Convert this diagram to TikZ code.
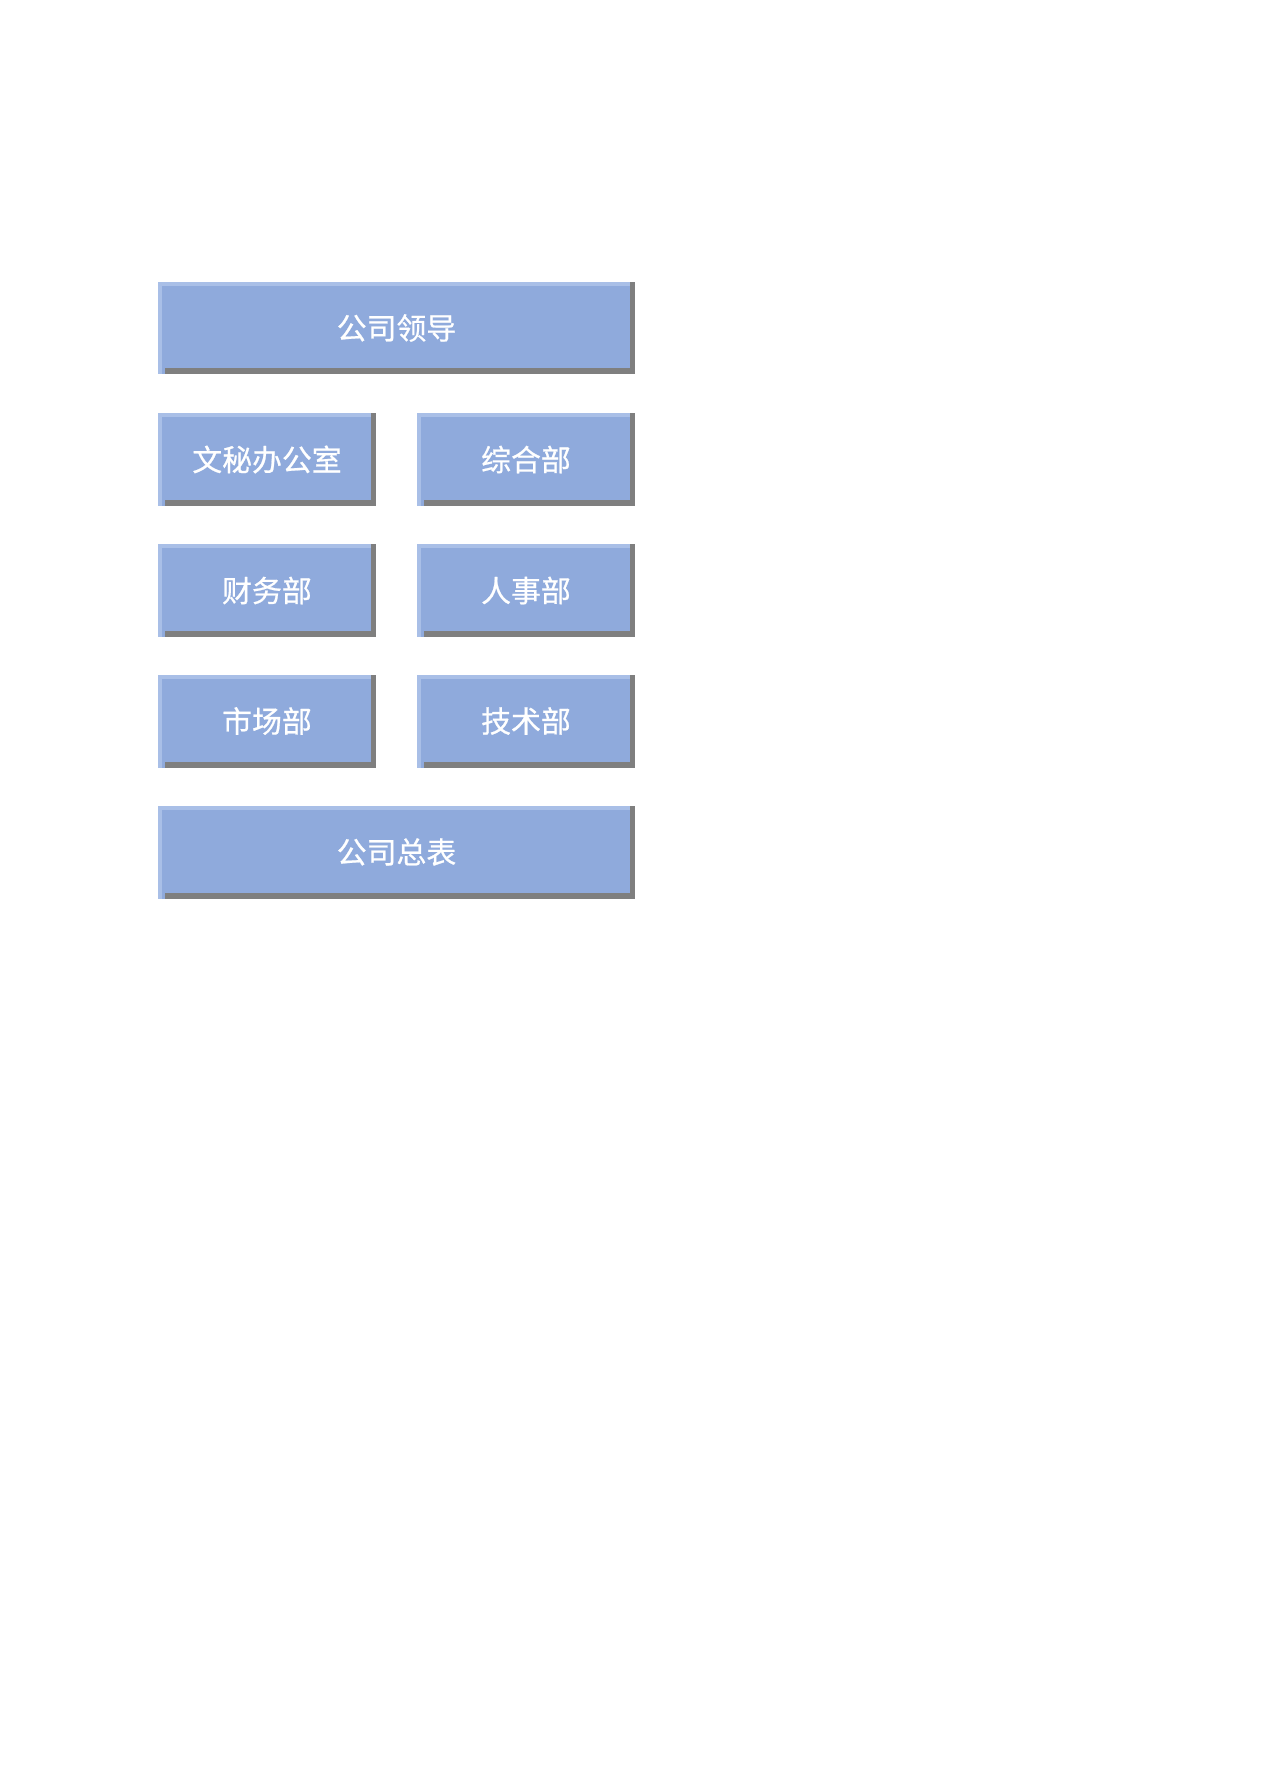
\documentclass[tikz,border=0pt]{standalone}
\usepackage{fontspec}
\newfontfamily\cjk[FakeBold=0.7]{Noto Sans CJK SC}
\usetikzlibrary{calc}
\definecolor{boxblue}{HTML}{8FAADC}
\definecolor{boxlight}{HTML}{A9BFE7}
\definecolor{boxshade}{HTML}{7F7F7F}

\begin{document}
\begin{tikzpicture}[x=0.02cm, y=-0.02cm,
  deptbox/.style={rectangle, fill=boxblue, inner sep=0pt, minimum width=4.36cm, minimum height=1.86cm,
    text=white, font=\cjk\fontsize{17}{20}\selectfont,
    path picture={
      \fill[boxlight] (path picture bounding box.north west) rectangle ($(path picture bounding box.north east)+(0,-0.08cm)$);
      \fill[boxlight] (path picture bounding box.north west) rectangle ($(path picture bounding box.south west)+(0.08cm,0)$);
      \fill[boxshade] ($(path picture bounding box.north east)+(-0.1cm,0)$) rectangle (path picture bounding box.south east);
      \fill[boxshade] ($(path picture bounding box.south west)+(0.14cm,0)$) rectangle ($(path picture bounding box.south east)+(0,0.12cm)$);
    }},
  widebox/.style={deptbox, minimum width=9.54cm},
]
  \fill[white] (0,0) rectangle (1267,1792);
  \useasboundingbox (0,0) rectangle (1267,1792);

  \node[widebox] (leader) at (396.5,328) {\raisebox{-0.06cm}{公司领导}};

  \node[deptbox] (office) at (267,459.5) {\raisebox{-0.06cm}{文秘办公室}};
  \node[deptbox] (general) at (526,459.5) {\raisebox{-0.06cm}{综合部}};

  \node[deptbox] (finance) at (267,590.5) {\raisebox{-0.06cm}{财务部}};
  \node[deptbox] (personnel) at (526,590.5) {\raisebox{-0.06cm}{人事部}};

  \node[deptbox] (market) at (267,721) {\raisebox{-0.06cm}{市场部}};
  \node[deptbox] (tech) at (526,721) {\raisebox{-0.06cm}{技术部}};

  \node[widebox] (summary) at (396.5,852) {\raisebox{-0.06cm}{公司总表}};
\end{tikzpicture}
\end{document}
